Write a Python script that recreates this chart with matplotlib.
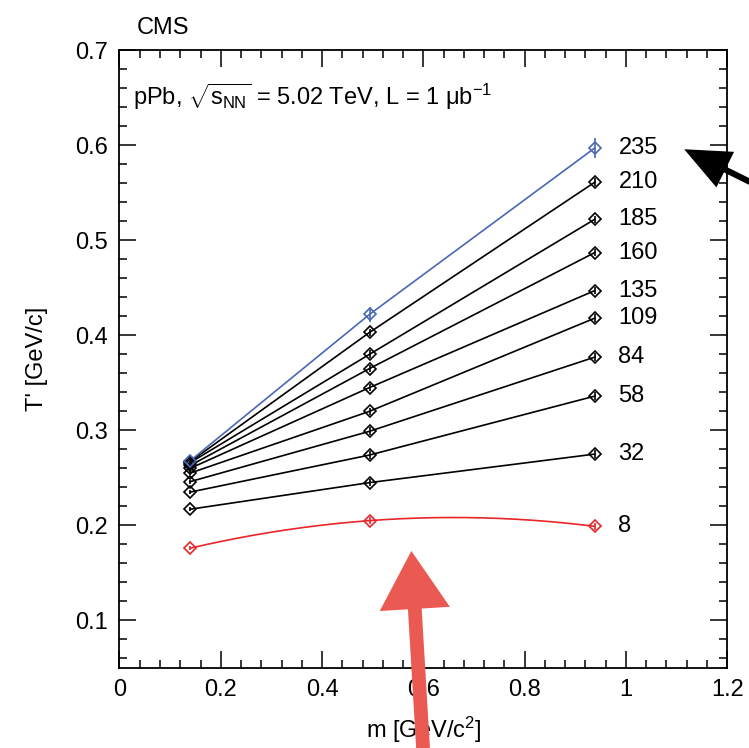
import matplotlib
matplotlib.use('Agg')
import matplotlib.pyplot as plt
import numpy as np

plt.rcParams['font.family'] = ['Liberation Sans', 'DejaVu Sans']
plt.rcParams['mathtext.fontset'] = 'custom'
plt.rcParams['mathtext.rm'] = 'Liberation Sans'
plt.rcParams['mathtext.it'] = 'Liberation Sans'
plt.rcParams['mathtext.sf'] = 'Liberation Sans'

# particle masses (pi, K, p) in GeV/c^2
masses = [0.1396, 0.4937, 0.9383]
# track multiplicity classes
mult = ['8', '32', '58', '84', '109', '135', '160', '185', '210', '235']
# T' values for each class at pi, K, p
t_pion = [0.176, 0.217, 0.235, 0.246, 0.255, 0.260, 0.263, 0.266, 0.267, 0.268]
t_kaon = [0.205, 0.245, 0.274, 0.299, 0.320, 0.345, 0.365, 0.380, 0.403, 0.422]
t_proton = [0.199, 0.275, 0.336, 0.377, 0.418, 0.447, 0.487, 0.522, 0.561, 0.597]
# uncertainties (mostly hidden by the markers)
err_blue = [0.003, 0.008, 0.011]
err_black = [0.002, 0.004, 0.004]

xticks = [0, 0.2, 0.4, 0.6, 0.8, 1.0, 1.2]
xticklabels = ['0', '0.2', '0.4', '0.6', '0.8', '1', '1.2']
yticks = [0.1, 0.2, 0.3, 0.4, 0.5, 0.6, 0.7]

fig = plt.figure(figsize=(7.49, 7.48), dpi=100)
ax = fig.add_axes([0.1595, 0.107, 0.8115, 0.826])

for i, m in enumerate(mult):
    y = [t_pion[i], t_kaon[i], t_proton[i]]
    if i == 0:
        col = '#e8262a'
        # smooth curve through the three points
        c = np.polyfit(masses, y, 2)
        xs = np.linspace(masses[0], masses[-1], 200)
        ax.plot(xs, np.polyval(c, xs), color=col, lw=1.2)
        err = err_black
    elif i == len(mult) - 1:
        col = '#4a67b4'
        ax.plot(masses, y, color=col, lw=1.2)
        err = err_blue
    else:
        col = 'black'
        ax.plot(masses, y, color=col, lw=1.2)
        err = err_black
    ax.errorbar(masses, y, yerr=err, fmt='D', ms=6.5, mfc='none', mec=col,
                mew=1.2, ecolor=col, elinewidth=1.2, capsize=0, zorder=3)
    ax.text(0.985, t_proton[i], m, fontsize=17, va='center', ha='left')

ax.set_xlim(0, 1.2)
ax.set_ylim(0.05, 0.7)
ax.set_xticks(xticks)
ax.set_xticklabels(xticklabels)
ax.set_xticks(np.arange(0, 1.2001, 0.04), minor=True)
ax.set_yticks(yticks)
ax.set_yticks(np.arange(0.06, 0.7001, 0.02), minor=True)
ax.tick_params(which='both', direction='in', top=True, right=True, width=1.1,
               labelsize=17)
ax.tick_params(which='major', length=12, pad=8)
ax.tick_params(which='minor', length=6)
for s in ax.spines.values():
    s.set_linewidth(1.3)

ax.set_xlabel('m [GeV/c$^{2}$]', fontsize=17, labelpad=10)
ax.set_ylabel("T' [GeV/c]", fontsize=17, labelpad=20)

fig.text(0.183, 0.963, 'CMS', fontsize=17, va='center', ha='left')
ax.text(0.022, 0.925, r'pPb, $\sqrt{s_{\rm NN}}$ = 5.02 TeV, L = 1 $\mu$b$^{-1}$',
        transform=ax.transAxes, fontsize=17, va='center', ha='left')

# black arrow pointing at the top label
ax.annotate('', xy=(1.11, 0.597), xytext=(1.25, 0.560), annotation_clip=False,
            arrowprops=dict(arrowstyle='simple,head_length=1.5,head_width=1.3,tail_width=0.2',
                            mutation_scale=22, color='black', lw=0))

# red arrow pointing up from below the axis
ax.annotate('', xy=(0.576, 0.176), xytext=(0.60, -0.04), annotation_clip=False,
            arrowprops=dict(arrowstyle='simple,head_length=1.9,head_width=2.3,tail_width=0.45',
                            mutation_scale=22, color='#ea5a52', lw=0), zorder=10)

fig.savefig('out.png', dpi=100)
